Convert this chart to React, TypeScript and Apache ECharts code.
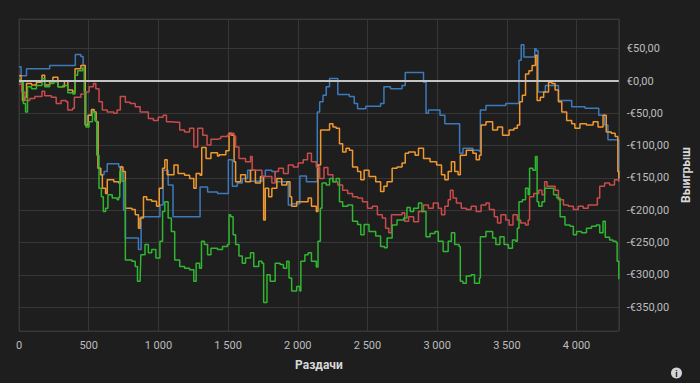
import { useEffect, useRef } from "react";
import * as echarts from "echarts";

// hands played vs. winnings (EUR)
const blueSeries: [number, number][] = [
  [0, 22], [15, 8], [30, 8], [54, 19], [220, 24], [404, 41], [444, 38], [460, 24], [475, -68], [496, -53], [520, -45], [539, -48], [553, -63], [567, -135], [586, -145], [610, -140], [633, -128], [716, -133], [727, -132], [739, -140], [750, -200], [763, -243], [857, -261], [876, -210], [999, -210], [1011, -192], [1034, -138], [1070, -161], [1105, -210], [1299, -164], [1353, -172], [1424, -174], [1502, -122], [1531, -163], [1566, -158], [1602, -151], [1640, -138], [1660, -155], [1743, -148], [1767, -138], [1814, -140], [1838, -156], [1932, -192], [1956, -190], [2015, -147], [2062, -156], [2140, -48], [2157, -32], [2181, -22], [2204, -9], [2228, 4], [2287, -21], [2370, -24], [2405, -35], [2429, -43], [2488, -39], [2594, -35], [2618, -9], [2665, -12], [2748, -7], [2771, 13], [2902, -2], [2920, -50], [2937, -45], [3020, -53], [3055, -66], [3161, -112], [3185, -104], [3256, -107], [3303, -109], [3310, -45], [3350, -38], [3492, -35], [3587, 32], [3603, 56], [3622, 37], [3700, 50], [3710, 47], [3724, -17], [3776, -7], [3870, -30], [3965, -40], [4060, -42], [4159, -53], [4201, -68], [4225, -91], [4291, -91], [4303, -153],
];

const orangeSeries: [number, number][] = [
  [0, 8], [15, 0], [25, -30], [40, -25], [54, -4], [90, -6], [125, -2], [165, 9], [184, -6], [220, -1], [243, 6], [279, -9], [326, 0], [350, -14], [385, -17], [402, 19], [444, 24], [463, 24], [475, -68], [496, -53], [520, -44], [539, -48], [553, -63], [567, -135], [586, -145], [598, -166], [621, -174], [633, -153], [680, -156], [715, -158], [727, -133], [746, -140], [763, -197], [810, -199], [834, -207], [857, -228], [869, -212], [893, -179], [916, -184], [952, -186], [987, -194], [1006, -166], [1030, -135], [1046, -122], [1063, -145], [1093, -145], [1112, -130], [1141, -143], [1188, -146], [1224, -151], [1254, -166], [1271, -143], [1299, -146], [1311, -103], [1342, -120], [1377, -111], [1424, -116], [1436, -114], [1484, -108], [1507, -81], [1526, -84], [1543, -125], [1554, -156], [1590, -145], [1625, -156], [1661, -138], [1696, -158], [1732, -148], [1755, -215], [1767, -166], [1791, -179], [1814, -166], [1850, -151], [1885, -161], [1921, -156], [1944, -179], [1956, -194], [1992, -187], [2027, -187], [2074, -181], [2098, -194], [2133, -202], [2145, -130], [2164, -76], [2193, -76], [2228, -66], [2252, -71], [2275, -73], [2299, -97], [2322, -110], [2346, -104], [2370, -107], [2393, -133], [2429, -140], [2452, -153], [2476, -138], [2511, -148], [2559, -156], [2594, -171], [2618, -163], [2641, -156], [2677, -135], [2712, -133], [2748, -127], [2771, -112], [2795, -110], [2842, -115], [2866, -104], [2902, -120], [2949, -125], [2996, -130], [3031, -145], [3055, -153], [3079, -140], [3102, -125], [3126, -140], [3150, -145], [3166, -115], [3209, -107], [3256, -112], [3280, -122], [3303, -115], [3315, -68], [3350, -63], [3398, -76], [3433, -71], [3469, -84], [3516, -76], [3551, -73], [3575, -68], [3592, -32], [3611, -22], [3634, 11], [3658, 16], [3681, 24], [3705, 40], [3717, -30], [3740, -25], [3764, -17], [3799, -2], [3823, -4], [3846, -14], [3870, -32], [3894, -48], [3929, -61], [3965, -66], [3988, -73], [4024, -66], [4071, -68], [4119, -63], [4154, -71], [4190, -53], [4213, -79], [4249, -81], [4277, -86], [4296, -140], [4303, -151],
];

const redSeries: [number, number][] = [
  [0, -5], [19, -17], [43, -30], [78, -27], [113, -24], [149, -24], [165, -16], [184, -23], [232, -25], [267, -35], [302, -30], [338, -32], [350, -45], [385, -42], [397, -25], [444, -20], [480, -17], [503, -9], [534, -4], [551, -12], [574, -32], [598, -45], [633, -48], [680, -50], [704, -45], [727, -24], [763, -33], [798, -35], [834, -40], [869, -48], [904, -48], [928, -58], [964, -61], [999, -56], [1034, -53], [1058, -63], [1093, -64], [1129, -64], [1153, -76], [1188, -79], [1224, -73], [1254, -102], [1282, -73], [1318, -84], [1349, -99], [1377, -90], [1424, -89], [1448, -86], [1495, -84], [1519, -81], [1543, -85], [1554, -102], [1578, -120], [1625, -125], [1661, -117], [1673, -138], [1720, -138], [1743, -148], [1779, -148], [1814, -158], [1838, -140], [1862, -135], [1897, -143], [1932, -130], [1968, -133], [2003, -127], [2039, -122], [2070, -112], [2098, -125], [2133, -133], [2157, -151], [2188, -134], [2216, -145], [2252, -156], [2287, -161], [2322, -169], [2358, -174], [2393, -179], [2429, -181], [2464, -187], [2500, -197], [2535, -194], [2571, -207], [2606, -212], [2630, -228], [2653, -235], [2672, -207], [2712, -207], [2748, -204], [2767, -217], [2795, -210], [2831, -218], [2866, -202], [2902, -192], [2937, -197], [2972, -189], [3008, -197], [3031, -207], [3055, -194], [3079, -184], [3095, -169], [3114, -181], [3138, -189], [3173, -197], [3209, -199], [3244, -194], [3280, -202], [3315, -192], [3350, -189], [3374, -199], [3410, -210], [3433, -220], [3457, -207], [3492, -215], [3516, -223], [3544, -207], [3575, -215], [3599, -220], [3634, -223], [3653, -215], [3663, -179], [3693, -174], [3729, -169], [3752, -176], [3771, -156], [3788, -163], [3823, -163], [3846, -169], [3870, -184], [3906, -192], [3941, -194], [3977, -199], [4012, -194], [4048, -197], [4083, -192], [4126, -192], [4149, -181], [4166, -163], [4201, -158], [4237, -161], [4272, -153], [4303, -156],
];

const greenSeries: [number, number][] = [
  [0, 3], [7, -2], [31, -35], [47, -48], [61, -9], [90, -12], [125, -7], [165, 4], [184, -9], [220, -4], [250, -1], [279, -9], [314, -7], [350, -18], [385, -20], [402, 9], [421, 16], [456, 20], [468, -17], [480, -71], [503, -63], [527, -48], [544, -61], [558, -115], [574, -166], [591, -179], [605, -202], [621, -197], [638, -176], [669, -181], [704, -184], [715, -180], [723, -140], [739, -155], [763, -277], [786, -277], [810, -279], [834, -287], [850, -310], [869, -308], [874, -269], [904, -253], [928, -266], [952, -261], [982, -274], [1011, -248], [1030, -202], [1046, -187], [1070, -212], [1093, -233], [1117, -277], [1153, -287], [1188, -290], [1224, -292], [1254, -310], [1271, -282], [1295, -290], [1309, -248], [1330, -253], [1353, -269], [1377, -259], [1424, -261], [1460, -256], [1495, -253], [1507, -207], [1519, -210], [1536, -238], [1554, -253], [1578, -271], [1602, -282], [1625, -274], [1661, -266], [1684, -287], [1720, -279], [1743, -282], [1755, -343], [1772, -343], [1779, -300], [1802, -310], [1838, -282], [1873, -284], [1897, -290], [1921, -279], [1937, -305], [1956, -325], [1992, -318], [2015, -325], [2022, -279], [2051, -269], [2074, -266], [2098, -279], [2133, -288], [2145, -248], [2162, -197], [2174, -158], [2204, -161], [2228, -151], [2252, -156], [2275, -151], [2299, -187], [2322, -194], [2358, -192], [2393, -217], [2429, -222], [2452, -238], [2476, -222], [2511, -233], [2559, -240], [2594, -256], [2622, -258], [2641, -243], [2677, -223], [2712, -215], [2760, -212], [2783, -196], [2807, -202], [2831, -197], [2866, -189], [2890, -202], [2913, -202], [2920, -241], [2949, -236], [2984, -233], [3008, -248], [3043, -264], [3079, -248], [3102, -235], [3126, -253], [3157, -256], [3166, -310], [3185, -313], [3209, -302], [3244, -300], [3268, -313], [3303, -305], [3310, -241], [3350, -233], [3398, -243], [3421, -253], [3450, -241], [3480, -253], [3511, -259], [3540, -246], [3563, -248], [3575, -228], [3587, -187], [3611, -184], [3634, -166], [3653, -176], [3663, -135], [3686, -138], [3705, -117], [3717, -187], [3729, -194], [3752, -187], [3771, -166], [3799, -166], [3835, -176], [3859, -181], [3882, -210], [3917, -223], [3953, -225], [3977, -238], [4000, -233], [4036, -235], [4071, -228], [4107, -225], [4142, -223], [4166, -235], [4190, -217], [4206, -242], [4237, -246], [4261, -248], [4284, -250], [4291, -279], [4303, -307],
];

const seriesColors = ["#3b7bbd", "#f0982f", "#c94b4b", "#30b630"];
const xName = "Раздачи";
const yName = "Выигрыш";
const xMax = 4303;
const yMin = -387;
const yMax = 96;

const fmtThousands = (v: number) =>
  String(v).replace(/\B(?=(\d{3})+(?!\d))/g, "\u00a0");
const fmtEuro = (v: number) =>
  (v < 0 ? "-" : "") + "€" + Math.abs(v) + ",00";

export default function App() {
  const ref = useRef<HTMLDivElement>(null);
  useEffect(() => {
    if (!ref.current) return;
    const chart = echarts.init(ref.current, undefined, { renderer: "svg" });
    const font = "Roboto, 'Open Sans', sans-serif";
    const gridColor = "#373737";
    const mkLine = (name: string, data: [number, number][], color: string) => ({
      name,
      type: "line",
      step: "end",
      data,
      showSymbol: false,
      symbol: "none",
      lineStyle: { color, width: 1.5 },
      itemStyle: { color },
      z: 3,
    });
    chart.setOption({
      animation: false,
      backgroundColor: "#1e1e1e",
      textStyle: { fontFamily: font },
      grid: {
        left: 19,
        right: 74,
        top: 19,
        bottom: 52,
        show: true,
        borderColor: gridColor,
        borderWidth: 1,
        backgroundColor: "transparent",
      },
      xAxis: {
        type: "value",
        min: 0,
        max: xMax,
        interval: 500,
        name: xName,
        nameLocation: "middle",
        nameGap: 28,
        nameTextStyle: { color: "#d8d8d8", fontSize: 12, fontWeight: "bold", fontFamily: font },
        axisLine: { show: true, lineStyle: { color: gridColor } },
        axisTick: { show: true, length: 6, lineStyle: { color: gridColor } },
        axisLabel: {
          color: "#bdbdbd",
          fontSize: 11,
          margin: 9,
          showMaxLabel: false,
          formatter: (v: number) => fmtThousands(v),
        },
        splitLine: { show: true, lineStyle: { color: gridColor, width: 1 } },
      },
      yAxis: {
        type: "value",
        position: "right",
        min: yMin,
        max: yMax,
        splitNumber: 10,
        name: yName,
        nameLocation: "middle",
        nameRotate: 90,
        nameGap: 54,
        nameTextStyle: { color: "#d8d8d8", fontSize: 12, fontWeight: "bold", fontFamily: font },
        axisLine: { show: false },
        axisTick: { show: false },
        axisLabel: {
          color: "#bdbdbd",
          fontSize: 11,
          margin: 8,
          showMinLabel: false,
          showMaxLabel: false,
          formatter: (v: number) => (v % 50 === 0 ? fmtEuro(v) : ""),
        },
        splitLine: { show: true, lineStyle: { color: gridColor, width: 1 } },
      },
      series: [
        {
          name: "zero",
          type: "line",
          data: [],
          z: 2,
          markLine: {
            silent: true,
            symbol: ["none", "none"],
            label: { show: false },
            lineStyle: { color: "#c4c4c4", width: 2, type: "solid" },
            data: [{ yAxis: 0 }],
          },
        },
        mkLine("Blue", blueSeries, seriesColors[0]),
        mkLine("Orange", orangeSeries, seriesColors[1]),
        mkLine("Red", redSeries, seriesColors[2]),
        mkLine("Green", greenSeries, seriesColors[3]),
      ],
      graphic: [
        {
          type: "circle",
          shape: { cx: 676.5, cy: 373, r: 5.5 },
          style: { fill: "#d4d4d4" },
        },
        {
          type: "text",
          x: 676.5,
          y: 373.5,
          style: {
            text: "i",
            fill: "#1e1e1e",
            font: "bold 9px " + font,
            align: "center",
            verticalAlign: "middle",
          },
        },
      ],
    });
    return () => chart.dispose();
  }, []);
  return (
    <div
      ref={ref}
      style={{ position: "fixed", left: 0, top: 0, width: 700, height: 383, background: "#1e1e1e" }}
    />
  );
}
